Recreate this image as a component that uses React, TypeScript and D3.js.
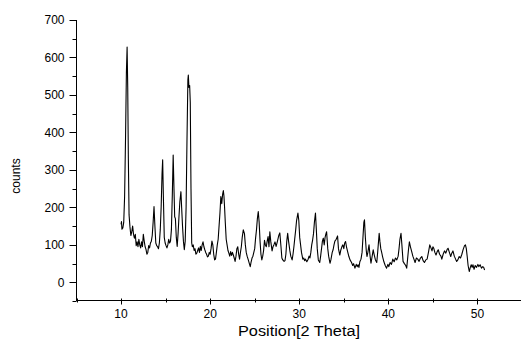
import * as d3 from "d3";
import React, { useEffect, useRef } from "react";

// XRD pattern (2 theta, counts)
const theta = [
  10.0, 10.05, 10.1, 10.2, 10.3, 10.4, 10.5, 10.6, 10.68, 10.75, 10.82, 10.9, 11.0, 11.1, 11.2, 11.3, 11.4, 11.5, 11.6, 11.7, 11.8, 11.9,
  12.0, 12.1, 12.2, 12.3, 12.4, 12.5, 12.6, 12.7, 12.8, 12.9, 13.0, 13.1, 13.2, 13.3, 13.4, 13.5, 13.6, 13.7, 13.8, 13.9,
  14.0, 14.1, 14.2, 14.3, 14.4, 14.5, 14.6, 14.67, 14.75, 14.85, 14.95, 15.05, 15.15, 15.25, 15.35, 15.45, 15.55, 15.65, 15.75, 15.85, 15.95,
  16.02, 16.1, 16.2, 16.3, 16.4, 16.5, 16.6, 16.72, 16.8, 16.9, 17.0, 17.1, 17.2, 17.3, 17.4, 17.5, 17.55, 17.62, 17.7, 17.77, 17.85, 17.93,
  18.0, 18.1, 18.2, 18.3, 18.4, 18.5, 18.6, 18.7, 18.8, 18.9, 19.0, 19.1, 19.2, 19.3, 19.4, 19.5, 19.6, 19.7, 19.8, 19.9,
  20.0, 20.1, 20.2, 20.3, 20.4, 20.5, 20.6, 20.7, 20.8, 20.9, 21.0, 21.1, 21.2, 21.3, 21.4, 21.48, 21.55, 21.62, 21.7, 21.8, 21.9,
  22.0, 22.1, 22.2, 22.3, 22.4, 22.5, 22.6, 22.7, 22.8, 22.9, 23.0, 23.1, 23.2, 23.3, 23.4, 23.5, 23.6, 23.72, 23.85, 23.95,
  24.05, 24.15, 24.28, 24.4, 24.5, 24.6, 24.7, 24.8, 24.9, 25.0, 25.1, 25.2, 25.3, 25.4, 25.5, 25.6, 25.7, 25.8, 25.9,
  26.0, 26.1, 26.2, 26.3, 26.4, 26.5, 26.6, 26.7, 26.8, 26.95, 27.05, 27.15, 27.28, 27.4, 27.5, 27.6, 27.7, 27.82, 27.95,
  28.05, 28.15, 28.3, 28.4, 28.5, 28.6, 28.7, 28.8, 28.95, 29.05, 29.2, 29.3, 29.4, 29.5, 29.6, 29.7, 29.85, 29.95,
  30.05, 30.15, 30.25, 30.4, 30.5, 30.6, 30.7, 30.85, 31.0, 31.1, 31.2, 31.3, 31.4, 31.5, 31.6, 31.7, 31.82, 31.92,
  32.02, 32.14, 32.3, 32.4, 32.5, 32.6, 32.7, 32.8, 32.9, 33.0, 33.07, 33.2, 33.3, 33.45, 33.55, 33.7, 33.8, 33.9,
  34.0, 34.15, 34.3, 34.4, 34.55, 34.65, 34.8, 34.9, 35.0, 35.1, 35.2, 35.3, 35.45, 35.57, 35.7, 35.87,
  36.0, 36.1, 36.25, 36.4, 36.5, 36.6, 36.7, 36.8, 36.93, 37.05, 37.15, 37.25, 37.32, 37.42, 37.52, 37.6, 37.7, 37.83, 37.95,
  38.05, 38.15, 38.3, 38.4, 38.55, 38.7, 38.8, 38.9, 38.97, 39.05, 39.15, 39.25, 39.35, 39.5, 39.65, 39.8, 39.95,
  40.05, 40.2, 40.35, 40.5, 40.65, 40.8, 40.95, 41.1, 41.2, 41.3, 41.42, 41.52, 41.65, 41.8, 41.95,
  42.06, 42.15, 42.25, 42.36, 42.48, 42.6, 42.75, 42.9, 43.0, 43.15, 43.3, 43.45, 43.6, 43.75, 43.9,
  44.05, 44.2, 44.35, 44.5, 44.65, 44.78, 44.9, 45.0, 45.1, 45.22, 45.35, 45.48, 45.6, 45.75, 45.9,
  46.0, 46.15, 46.3, 46.45, 46.6, 46.7, 46.85, 47.0, 47.12, 47.25, 47.4, 47.55, 47.67, 47.8, 47.95,
  48.1, 48.25, 48.4, 48.55, 48.65, 48.75, 48.85, 48.95, 49.08, 49.2, 49.3, 49.4, 49.5, 49.62, 49.75, 49.9,
  50.05, 50.15, 50.3, 50.45, 50.6, 50.7, 50.8,
];
const counts = [
  155, 162, 142, 145, 160, 230, 380, 560, 628, 520, 330, 180, 148, 125, 135, 150, 128, 118, 128, 98, 108, 95,
  115, 100, 92, 108, 95, 128, 110, 95, 88, 75, 80, 98, 92, 105, 110, 125, 160, 202, 150, 105,
  98, 95, 90, 105, 140, 200, 290, 327, 230, 120, 105, 98, 92, 100, 115, 105, 110, 140, 230, 340, 240,
  175, 170, 120, 96, 130, 175, 215, 242, 200, 150, 110, 87, 110, 200, 380, 540, 553, 520, 525, 480, 250, 105,
  95, 100, 85, 90, 75, 78, 85, 92, 80, 96, 85, 100, 108, 95, 87, 80, 75, 68, 70, 80,
  75, 90, 110, 100, 75, 60, 62, 80, 100, 115, 150, 185, 229, 210, 235, 245, 230, 200, 160, 115, 100,
  85, 78, 70, 82, 72, 80, 73, 65, 56, 70, 90, 95, 75, 62, 80, 95, 120, 140, 130, 100,
  80, 70, 60, 50, 42, 55, 65, 70, 80, 90, 118, 140, 170, 189, 160, 110, 75, 60, 70,
  85, 112, 100, 95, 110, 122, 95, 135, 110, 84, 95, 100, 108, 96, 105, 115, 125, 132, 95,
  65, 60, 56, 58, 75, 110, 131, 110, 84, 70, 60, 75, 95, 118, 140, 165, 185, 165,
  120, 100, 80, 62, 65, 58, 62, 55, 62, 70, 65, 80, 100, 113, 130, 160, 185, 140,
  90, 60, 53, 70, 90, 110, 118, 100, 120, 130, 135, 90, 70, 51, 60, 80, 87, 100,
  110, 115, 124, 90, 73, 85, 96, 100, 90, 105, 109, 95, 80, 69, 60, 53,
  45, 50, 38, 48, 42, 47, 40, 55, 62, 80, 120, 160, 167, 120, 85, 69, 80, 100, 70,
  51, 65, 87, 75, 60, 53, 80, 110, 131, 110, 90, 80, 69, 55, 45, 38, 48,
  42, 53, 48, 62, 55, 65, 60, 70, 90, 115, 131, 100, 56, 50, 45,
  38, 60, 85, 108, 95, 84, 70, 60, 53, 65, 62, 56, 65, 69, 58,
  53, 60, 62, 80, 100, 92, 84, 95, 91, 80, 73, 82, 87, 75, 70,
  62, 75, 84, 78, 88, 91, 80, 69, 78, 84, 70, 62, 56, 60, 69,
  65, 75, 88, 98, 100, 90, 69, 45, 29, 40, 47, 40, 47, 35, 45, 40,
  48, 42, 47, 38, 42, 40, 33,
];

const yTicks = [0, 100, 200, 300, 400, 500, 600, 700];
const yMinor = [-50, 50, 150, 250, 350, 450, 550, 650];
const xTicks = [10, 20, 30, 40, 50];
const xMinor = [5, 15, 25, 35, 45, 55];

export default function App() {
  const svgRef = useRef(null);
  const width = 521;
  const height = 343;

  useEffect(() => {
    document.body.style.margin = "0";
    const svgEl = d3.select(svgRef.current);
    svgEl.selectAll("*").remove();

    const x = d3.scaleLinear().domain([5, 55]).range([76.5, 522]);
    const y = d3.scaleLinear().domain([-47, 700]).range([300, 20]);
    const font = "Arial, 'Liberation Sans', sans-serif";

    // y axis
    const gy = svgEl.append("g").attr("transform", "translate(76.5,0)");
    gy.append("line").attr("y1", 20).attr("y2", 300).attr("stroke", "#000");
    gy.selectAll(".maj")
      .data(yTicks)
      .join("line")
      .attr("x1", -7)
      .attr("x2", 0)
      .attr("y1", (d) => Math.round(y(d)) + 0.5)
      .attr("y2", (d) => Math.round(y(d)) + 0.5)
      .attr("stroke", "#000");
    gy.selectAll(".min")
      .data(yMinor)
      .join("line")
      .attr("x1", -4)
      .attr("x2", 0)
      .attr("y1", (d) => Math.round(y(d)) + 0.5)
      .attr("y2", (d) => Math.round(y(d)) + 0.5)
      .attr("stroke", "#000");
    gy.selectAll("text")
      .data(yTicks)
      .join("text")
      .attr("x", -12)
      .attr("y", (d) => y(d))
      .attr("dy", "0.35em")
      .attr("text-anchor", "end")
      .style("font-family", font)
      .style("font-size", "12px")
      .text((d) => d);

    // x axis
    const gx = svgEl.append("g").attr("transform", "translate(0,300.5)");
    gx.append("line").attr("x1", 76).attr("x2", 521).attr("stroke", "#000");
    gx.selectAll(".maj")
      .data(xTicks)
      .join("line")
      .attr("x1", (d) => Math.round(x(d)) + 0.5)
      .attr("x2", (d) => Math.round(x(d)) + 0.5)
      .attr("y1", -2)
      .attr("y2", 4)
      .attr("stroke", "#000");
    gx.selectAll(".min")
      .data(xMinor)
      .join("line")
      .attr("x1", (d) => Math.round(x(d)) + 0.5)
      .attr("x2", (d) => Math.round(x(d)) + 0.5)
      .attr("y1", -2)
      .attr("y2", 2)
      .attr("stroke", "#000");
    gx.selectAll("text")
      .data(xTicks)
      .join("text")
      .attr("x", (d) => x(d))
      .attr("y", 17)
      .attr("text-anchor", "middle")
      .style("font-family", font)
      .style("font-size", "12px")
      .text((d) => d);

    // axis titles
    svgEl
      .append("text")
      .attr("x", 299)
      .attr("y", 336)
      .attr("text-anchor", "middle")
      .attr("textLength", 122)
      .attr("lengthAdjust", "spacingAndGlyphs")
      .style("font-family", font)
      .style("font-size", "14px")
      .text("Position[2 Theta]");
    svgEl
      .append("text")
      .attr("transform", "translate(20,176) rotate(-90)")
      .attr("text-anchor", "middle")
      .style("font-family", font)
      .style("font-size", "12px")
      .text("counts");

    // pattern
    const line = d3
      .line()
      .x((d) => x(d[0]))
      .y((d) => y(d[1]));
    const pts = theta.map((t, i) => [t, counts[i]]);
    svgEl
      .append("path")
      .datum(pts)
      .attr("d", line)
      .attr("fill", "none")
      .attr("stroke", "#000")
      .attr("stroke-width", 1.1)
      .attr("stroke-linejoin", "round");
  });

  return (
    <svg
      width={width}
      height={height}
      ref={svgRef}
      style={{ display: "block", background: "#fff" }}
    ></svg>
  );
}
